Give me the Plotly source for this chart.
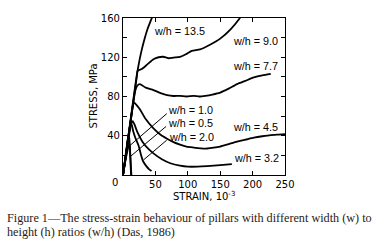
import plotly.graph_objects as go

# ---- data (strain in 10^-3, stress in MPa) ----
strain_13_5 = [0, 4, 8, 12, 16, 20, 24, 28, 33, 38, 44.5, 48]
stress_13_5 = [0, 18, 38, 58, 77, 96, 112, 125, 138, 149, 160, 166]

strain_9_0 = [0, 4, 8, 12, 16, 19, 21, 22.5, 25, 29, 38, 47, 55, 62, 70, 78, 88, 97, 106, 119, 135, 150, 166, 179, 184]
stress_9_0 = [0, 18, 37, 56, 75, 89, 99, 106, 107, 108, 113, 118, 120, 120.5, 119, 119.7, 120.4, 123, 126.5, 128, 133, 139, 148.5, 158.7, 164]

strain_7_7 = [0, 4, 8, 12, 16, 19, 22, 26, 35, 47, 58, 68, 78, 88, 98, 109, 118, 127, 138, 150, 163, 176, 189, 202, 215, 228]
stress_7_7 = [0, 18, 37, 56, 74, 86, 91, 92.6, 89, 86.5, 83.5, 81.4, 80.5, 80.7, 80, 80.7, 80, 80.7, 82, 84, 88, 92.6, 96, 99.4, 101.5, 103]

strain_4_5 = [0, 4, 8, 12, 15, 17, 20, 26, 35, 47, 58, 68, 78, 88, 98, 109, 120, 130, 140, 150, 163, 176, 189, 202, 215, 228, 240, 250]
stress_4_5 = [0, 18, 37, 56, 70, 74, 72, 67, 57, 47.5, 41, 37, 33.5, 31, 29, 28, 27.2, 27, 27.8, 29, 31.5, 34, 36, 38, 39.5, 40.7, 41.2, 41.6]

strain_3_2 = [0, 4, 8, 11, 13, 15, 18, 22, 30, 40, 47, 60, 73, 88, 100, 115, 130, 150, 168]
stress_3_2 = [0, 17, 35, 47, 53, 55, 51, 44, 34, 26, 22, 16, 12, 9.5, 8.5, 8.5, 9, 10, 11]

strain_2_0 = [0, 3, 6, 9, 11, 12.5, 14, 16, 19, 24, 28, 31, 36, 40, 44]
stress_2_0 = [0, 14, 29, 43, 51, 53, 50, 44, 38, 30, 20, 14, 9, 6, 4]

strain_1_0 = [0, 2, 4, 6, 7.5, 8.5, 9.5, 10.5, 11.5, 12.5, 13]
stress_1_0 = [0, 10, 20, 30, 37, 40, 38, 30, 17, 5, 0]

strain_0_5 = [0, 3, 6, 8, 9.5, 10.5, 11, 11.5, 12, 12.5]
stress_0_5 = [0, 12, 22, 28, 31, 29, 22, 14, 6, 0]

curve_labels = ["w/h = 13.5", "w/h = 9.0", "w/h = 7.7", "w/h = 4.5", "w/h = 3.2",
                "w/h = 1.0", "w/h = 0.5", "w/h = 2.0"]

x_tick_vals = [0, 50, 100, 150, 200, 250]
x_tick_text = ["50", "100", "150", "200", "250"]
y_tick_vals = [0, 20, 40, 60, 80, 100, 120, 140, 160]
y_tick_text = ["40", "80", "120", "160"]

caption_1 = "Figure 1\u2014The stress-strain behaviour of pillars with different width (w) to"
caption_2 = "height (h) ratios (w/h) (Das, 1986)"

# ---- figure ----
series = [
    (strain_13_5, stress_13_5), (strain_9_0, stress_9_0), (strain_7_7, stress_7_7),
    (strain_4_5, stress_4_5), (strain_3_2, stress_3_2), (strain_2_0, stress_2_0),
    (strain_1_0, stress_1_0), (strain_0_5, stress_0_5),
]

fig = go.Figure()
for xs, ys in series:
    fig.add_trace(go.Scatter(x=xs, y=ys, mode="lines",
                             line=dict(color="black", width=1.8, shape="spline", smoothing=0.6),
                             showlegend=False, hoverinfo="skip"))

label_font = dict(family="Liberation Sans, Arial, sans-serif", size=10.8, color="black")

# label placements (strain, stress of left/middle of text)
label_pos = [(45, 147), (166, 137), (166, 111), (166, 49), (168.5, 17),
             (67, 66), (67, 52.5), (68, 39)]
for text, (lx, ly) in zip(curve_labels, label_pos):
    fig.add_annotation(x=lx, y=ly, text=text, showarrow=False, xanchor="left",
                       yanchor="middle", font=label_font)

# pointer lines for the small labels
pointers = [((67.5, 62.5), (5.7, 27.2)), ((66.5, 49.5), (10.9, 18.6)), ((67.5, 35.5), (31.5, 15.3))]
for (x0, y0), (x1, y1) in pointers:
    fig.add_shape(type="line", x0=x0, y0=y0, x1=x1, y1=y1, xref="x", yref="y",
                  line=dict(color="black", width=1))

axis_font = dict(family="DejaVu Sans, sans-serif", size=10, color="black")

fig.update_xaxes(range=[0, 250], tickvals=x_tick_vals,
                 ticktext=[" "] + x_tick_text,
                 ticks="inside", ticklen=4, tickcolor="black", tickwidth=1,
                 showline=True, linecolor="black", linewidth=1.2, mirror="ticks",
                 showgrid=False, zeroline=False, tickfont=axis_font)
fig.update_yaxes(range=[0, 160], tickvals=y_tick_vals,
                 ticktext=[" ", " ", y_tick_text[0], " ", y_tick_text[1], " ",
                           y_tick_text[2], " ", y_tick_text[3]],
                 ticks="inside", ticklen=4, tickcolor="black", tickwidth=1,
                 showline=True, linecolor="black", linewidth=1.2, mirror="ticks",
                 showgrid=False, zeroline=False, tickfont=axis_font)

# corner zero, axis titles
fig.add_annotation(x=-0.05, y=-0.05, xref="paper", yref="paper", text="0",
                   showarrow=False, xanchor="center", yanchor="middle", font=axis_font)
fig.add_annotation(x=-0.185, y=0.50, xref="paper", yref="paper", text="STRESS, MPa",
                   textangle=-90, showarrow=False, xanchor="center", yanchor="middle",
                   font=axis_font)
fig.add_annotation(x=0.5, y=-0.135, xref="paper", yref="paper",
                   text="STRAIN, 10<sup>-3</sup>", showarrow=False, xanchor="center",
                   yanchor="middle", font=axis_font)

cap_font = dict(family="Liberation Serif, Times New Roman, serif", size=12.2, color="#2b1b17")
fig.add_annotation(x=-0.728, y=-0.274, xref="paper", yref="paper", text=caption_1,
                   showarrow=False, xanchor="left", yanchor="middle", font=cap_font)
fig.add_annotation(x=-0.728, y=-0.363, xref="paper", yref="paper", text=caption_2,
                   showarrow=False, xanchor="left", yanchor="middle", font=cap_font)

fig.update_layout(width=390, height=248, margin=dict(l=123, r=105, t=18, b=73),
                  paper_bgcolor="white", plot_bgcolor="white")

fig.write_html("out.html", config={"displayModeBar": False},
               post_script="document.body.style.margin='0';document.body.style.overflow='hidden';")
